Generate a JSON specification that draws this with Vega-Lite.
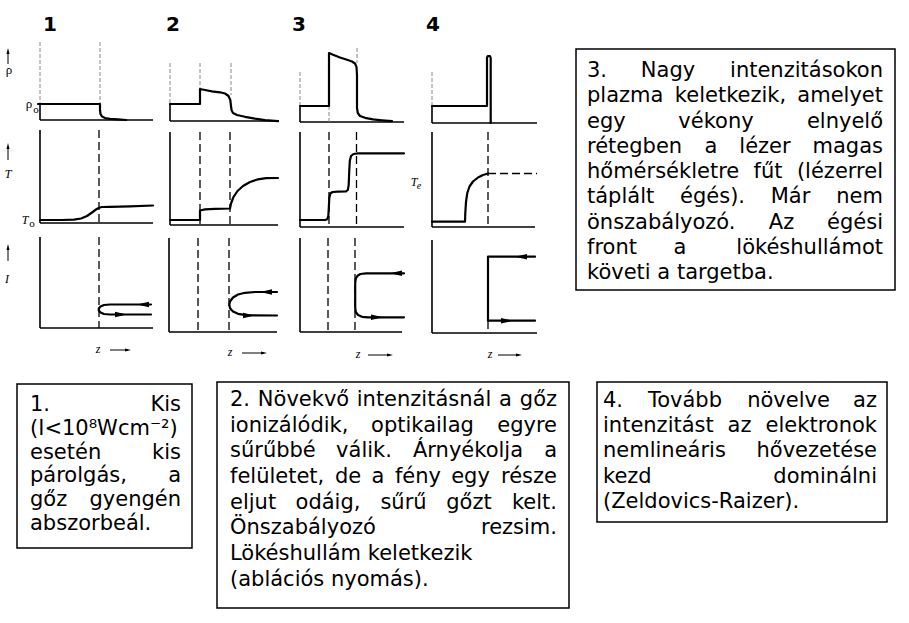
{
"$schema": "https://vega.github.io/schema/vega-lite/v6.json",
"width": 909, "height": 623,
"autosize": {"type": "fit", "contains": "padding"},
"padding": 0,
"background": "white",
"config": {"view": {"stroke": null}},
"datasets": {
"boxes": [
{"x":17,"y":384,"x2":192,"y2":548},
{"x":217,"y":382,"x2":569,"y2":608},
{"x":576,"y":49,"x2":895,"y2":290},
{"x":597,"y":382,"x2":887,"y2":522}
],
"rules": [
{"k":"faint","x":40,"y":42,"x2":40,"y2":104},{"k":"axis","x":40,"y":104,"x2":40,"y2":120},{"k":"axis","x":40,"y":120,"x2":153,"y2":120},
{"k":"axis","x":40,"y":130,"x2":40,"y2":223},{"k":"axis","x":40,"y":223,"x2":153,"y2":223},
{"k":"axis","x":40,"y":237,"x2":40,"y2":328},{"k":"axis","x":40,"y":328,"x2":153,"y2":328},
{"k":"faint","x":170,"y":63,"x2":170,"y2":104},{"k":"axis","x":170,"y":104,"x2":170,"y2":121},{"k":"axis","x":170,"y":121,"x2":279,"y2":121},
{"k":"axis","x":170,"y":132,"x2":170,"y2":225},{"k":"axis","x":170,"y":225,"x2":278,"y2":225},
{"k":"axis","x":169,"y":238,"x2":169,"y2":332},{"k":"axis","x":169,"y":332,"x2":277,"y2":332},
{"k":"faint","x":300,"y":72,"x2":300,"y2":106},{"k":"axis","x":300,"y":106,"x2":300,"y2":122},{"k":"axis","x":300,"y":122,"x2":404,"y2":122},
{"k":"axis","x":300,"y":132,"x2":300,"y2":227},{"k":"axis","x":300,"y":227,"x2":404,"y2":227},
{"k":"axis","x":300,"y":238,"x2":300,"y2":332},{"k":"axis","x":300,"y":332,"x2":402,"y2":332},
{"k":"faint","x":432,"y":72,"x2":432,"y2":106},{"k":"axis","x":432,"y":106,"x2":432,"y2":123},{"k":"axis","x":432,"y":123,"x2":537,"y2":123},
{"k":"axis","x":432,"y":132,"x2":432,"y2":227},{"k":"axis","x":432,"y":227,"x2":535,"y2":227},
{"k":"axis","x":432,"y":240,"x2":432,"y2":333},{"k":"axis","x":432,"y":333,"x2":537,"y2":333},
{"k":"dash","x":99,"y":130,"x2":99,"y2":223},{"k":"dash","x":99,"y":237,"x2":99,"y2":328},
{"k":"dash","x":200,"y":132,"x2":200,"y2":225},{"k":"dash","x":230,"y":132,"x2":230,"y2":225},
{"k":"dash","x":198,"y":238,"x2":198,"y2":332},{"k":"dash","x":229,"y":238,"x2":229,"y2":332},
{"k":"dash","x":329,"y":132,"x2":329,"y2":227},{"k":"dash","x":356.5,"y":132,"x2":356.5,"y2":227},
{"k":"dash","x":328,"y":238,"x2":328,"y2":332},{"k":"dash","x":355,"y":238,"x2":355,"y2":332},
{"k":"dash","x":488,"y":132,"x2":488,"y2":227},{"k":"dash","x":488,"y":321,"x2":488,"y2":333},
{"k":"dash","x":488,"y":173.5,"x2":537,"y2":173.5},
{"k":"faint","x":100,"y":42,"x2":100,"y2":104},
{"k":"faint","x":200,"y":63,"x2":200,"y2":89},{"k":"faint","x":231,"y":63,"x2":231,"y2":95},
{"k":"faint","x":329,"y":106,"x2":329,"y2":122},{"k":"faint","x":357,"y":48,"x2":357,"y2":63},
{"k":"thin","x":8,"y":52,"x2":8,"y2":64},{"k":"thin","x":8,"y":147,"x2":8,"y2":160},{"k":"thin","x":8,"y":248,"x2":8,"y2":261},
{"k":"thin","x":110,"y":350,"x2":128,"y2":350},{"k":"thin","x":242,"y":353,"x2":264,"y2":353},
{"k":"thin","x":368,"y":355,"x2":390,"y2":355},{"k":"thin","x":498,"y":355,"x2":519,"y2":355}
],
"curves": [
{"id":"a1","o":1,"x":38,"y":104},{"id":"a1","o":2,"x":100,"y":104},{"id":"a1","o":3,"x":100,"y":110},{"id":"a1","o":4,"x":100.5,"y":114},{"id":"a1","o":5,"x":102,"y":116.5},{"id":"a1","o":6,"x":105,"y":118},{"id":"a1","o":7,"x":110,"y":118.8},{"id":"a1","o":8,"x":118,"y":119.4},{"id":"a1","o":9,"x":126,"y":120},
{"id":"a2","o":1,"x":40,"y":220},{"id":"a2","o":2,"x":62,"y":220},{"id":"a2","o":3,"x":74,"y":219.6},{"id":"a2","o":4,"x":81,"y":218.5},{"id":"a2","o":5,"x":87,"y":216},{"id":"a2","o":6,"x":92,"y":212.5},{"id":"a2","o":7,"x":96,"y":209.5},{"id":"a2","o":8,"x":99,"y":207.8},{"id":"a2","o":9,"x":102,"y":207},{"id":"a2","o":10,"x":110,"y":206.8},{"id":"a2","o":11,"x":130,"y":206.3},{"id":"a2","o":12,"x":153,"y":205.5},
{"id":"a3","o":1,"x":151,"y":304.5},{"id":"a3","o":2,"x":110,"y":304.5},{"id":"a3","o":3,"x":104,"y":305},{"id":"a3","o":4,"x":100.5,"y":306.5},{"id":"a3","o":5,"x":98.8,"y":308.5},{"id":"a3","o":6,"x":98.8,"y":310.5},{"id":"a3","o":7,"x":100.5,"y":312.5},{"id":"a3","o":8,"x":104,"y":314},{"id":"a3","o":9,"x":110,"y":314.5},{"id":"a3","o":10,"x":151,"y":314.5},
{"id":"b1","o":1,"x":170,"y":104},{"id":"b1","o":2,"x":200,"y":104},{"id":"b1","o":3,"x":200,"y":89},{"id":"b1","o":4,"x":205,"y":90},{"id":"b1","o":5,"x":212,"y":91.3},{"id":"b1","o":6,"x":220,"y":92.3},{"id":"b1","o":7,"x":225,"y":93.5},{"id":"b1","o":8,"x":228.5,"y":96},{"id":"b1","o":9,"x":230.3,"y":100},{"id":"b1","o":10,"x":231,"y":106},{"id":"b1","o":11,"x":231.5,"y":110},{"id":"b1","o":12,"x":233,"y":113},{"id":"b1","o":13,"x":237,"y":115},{"id":"b1","o":14,"x":245,"y":116.8},{"id":"b1","o":15,"x":255,"y":118.6},{"id":"b1","o":16,"x":265,"y":120.1},{"id":"b1","o":17,"x":278,"y":121.2},
{"id":"b2","o":1,"x":170,"y":220},{"id":"b2","o":2,"x":200,"y":220},{"id":"b2","o":3,"x":200,"y":210.5},{"id":"b2","o":4,"x":205,"y":209.4},{"id":"b2","o":5,"x":215,"y":208.8},{"id":"b2","o":6,"x":230,"y":208.5},{"id":"b2","o":7,"x":231,"y":203.5},{"id":"b2","o":8,"x":233.5,"y":197},{"id":"b2","o":9,"x":237.5,"y":191},{"id":"b2","o":10,"x":243,"y":186},{"id":"b2","o":11,"x":250,"y":182},{"id":"b2","o":12,"x":258,"y":179.3},{"id":"b2","o":13,"x":266,"y":178.2},{"id":"b2","o":14,"x":278,"y":178},
{"id":"b3","o":1,"x":277,"y":292},{"id":"b3","o":2,"x":255,"y":292},{"id":"b3","o":3,"x":245,"y":292.8},{"id":"b3","o":4,"x":238,"y":294.5},{"id":"b3","o":5,"x":233,"y":297.5},{"id":"b3","o":6,"x":230,"y":301.5},{"id":"b3","o":7,"x":229.3,"y":305},{"id":"b3","o":8,"x":230.2,"y":308.5},{"id":"b3","o":9,"x":233,"y":311.5},{"id":"b3","o":10,"x":238,"y":313.8},{"id":"b3","o":11,"x":246,"y":315.2},{"id":"b3","o":12,"x":277,"y":315.5},
{"id":"c1","o":1,"x":300,"y":106},{"id":"c1","o":2,"x":329,"y":106},{"id":"c1","o":3,"x":329,"y":53},{"id":"c1","o":4,"x":333,"y":54.8},{"id":"c1","o":5,"x":340,"y":57.5},{"id":"c1","o":6,"x":347,"y":59.8},{"id":"c1","o":7,"x":352,"y":61.5},{"id":"c1","o":8,"x":355,"y":63.5},{"id":"c1","o":9,"x":356.5,"y":67},{"id":"c1","o":10,"x":357,"y":75},{"id":"c1","o":11,"x":357,"y":108},{"id":"c1","o":12,"x":357.8,"y":113},{"id":"c1","o":13,"x":360,"y":116},{"id":"c1","o":14,"x":365,"y":117.8},{"id":"c1","o":15,"x":373,"y":119.3},{"id":"c1","o":16,"x":382,"y":120.3},{"id":"c1","o":17,"x":392,"y":121.2},
{"id":"c2","o":1,"x":300,"y":220},{"id":"c2","o":2,"x":325,"y":220},{"id":"c2","o":3,"x":327.3,"y":219.2},{"id":"c2","o":4,"x":328.3,"y":216},{"id":"c2","o":5,"x":328.8,"y":208},{"id":"c2","o":6,"x":329.3,"y":198},{"id":"c2","o":7,"x":330.3,"y":193.5},{"id":"c2","o":8,"x":332.5,"y":192},{"id":"c2","o":9,"x":338,"y":191.6},{"id":"c2","o":10,"x":346,"y":191.4},{"id":"c2","o":11,"x":347.8,"y":190},{"id":"c2","o":12,"x":348.7,"y":185},{"id":"c2","o":13,"x":349.2,"y":172},{"id":"c2","o":14,"x":349.8,"y":161},{"id":"c2","o":15,"x":351,"y":156},{"id":"c2","o":16,"x":353.5,"y":154},{"id":"c2","o":17,"x":358,"y":153.3},{"id":"c2","o":18,"x":404,"y":153.3},
{"id":"c3","o":1,"x":404,"y":273.3},{"id":"c3","o":2,"x":366,"y":273.3},{"id":"c3","o":3,"x":360.5,"y":274},{"id":"c3","o":4,"x":357.5,"y":275.8},{"id":"c3","o":5,"x":355.8,"y":278.5},{"id":"c3","o":6,"x":355.2,"y":283},{"id":"c3","o":7,"x":355.2,"y":308},{"id":"c3","o":8,"x":355.8,"y":312},{"id":"c3","o":9,"x":358,"y":315},{"id":"c3","o":10,"x":362,"y":316.8},{"id":"c3","o":11,"x":368,"y":317.3},{"id":"c3","o":12,"x":404,"y":317.3},
{"id":"d1","o":1,"x":432,"y":106},{"id":"d1","o":2,"x":487,"y":106},{"id":"d1","o":3,"x":487,"y":58},{"id":"d1","o":4,"x":487.8,"y":56},{"id":"d1","o":5,"x":490,"y":56},{"id":"d1","o":6,"x":490.7,"y":58},{"id":"d1","o":7,"x":490.7,"y":123},
{"id":"d2","o":1,"x":432,"y":221.7},{"id":"d2","o":2,"x":465,"y":221.7},{"id":"d2","o":3,"x":465.3,"y":213},{"id":"d2","o":4,"x":466,"y":202},{"id":"d2","o":5,"x":467.3,"y":193},{"id":"d2","o":6,"x":469.5,"y":186.5},{"id":"d2","o":7,"x":473,"y":181.5},{"id":"d2","o":8,"x":478,"y":177.5},{"id":"d2","o":9,"x":483,"y":175},{"id":"d2","o":10,"x":488,"y":173.5},
{"id":"d3","o":1,"x":535,"y":256.7},{"id":"d3","o":2,"x":488,"y":256.7},{"id":"d3","o":3,"x":488,"y":320.7},{"id":"d3","o":4,"x":535,"y":320.7}
],
"heads": [
{"d":"l","x":143,"y":304.5},{"d":"r","x":121,"y":314.5},
{"d":"l","x":266,"y":292},{"d":"r","x":249,"y":315.5},
{"d":"l","x":396,"y":273.3},{"d":"r","x":377,"y":317.3},
{"d":"l","x":521,"y":256.7},{"d":"r","x":507,"y":320.7}
],
"small": [
{"d":"u","x":8,"y":51},{"d":"u","x":8,"y":146},{"d":"u","x":8,"y":247},
{"d":"r","x":128,"y":350},{"d":"r","x":264,"y":353},{"d":"r","x":390,"y":355},{"d":"r","x":519,"y":355}
],
"labels": [
{"s":"num","t":"1","x":50,"y":31},{"s":"num","t":"2","x":173,"y":31},{"s":"num","t":"3","x":299,"y":31},{"s":"num","t":"4","x":433,"y":31},
{"s":"up","t":"ρ","x":9,"y":74},{"s":"up","t":"ρ","x":29,"y":108},{"s":"sub","t":"o","x":36,"y":113},
{"s":"it","t":"T","x":8,"y":178},{"s":"it","t":"I","x":7,"y":283},
{"s":"it","t":"T","x":25,"y":224},{"s":"sub","t":"o","x":32,"y":227},
{"s":"it","t":"T","x":414,"y":186},{"s":"subi","t":"e","x":419,"y":189},
{"s":"it","t":"z","x":98,"y":353},{"s":"it","t":"z","x":230,"y":356},{"s":"it","t":"z","x":358,"y":358},{"s":"it","t":"z","x":490,"y":358}
],
"words": [
{"a":"l","t":"1.","x":30,"y":411},{"a":"r","t":"Kis","x":181,"y":411},
{"a":"l","t":"(I<10⁸Wcm⁻²)","x":30,"y":435},
{"a":"l","t":"esetén","x":30,"y":459},{"a":"r","t":"kis","x":181,"y":459},
{"a":"l","t":"párolgás,","x":30,"y":482},{"a":"r","t":"a","x":181,"y":482},
{"a":"l","t":"gőz","x":30,"y":506},{"a":"r","t":"gyengén","x":181,"y":506},
{"a":"l","t":"abszorbeál.","x":30,"y":530},
{"a":"l","t":"2.","x":230,"y":406},{"a":"c","t":"Növekvő","x":303.5,"y":406},{"a":"c","t":"intenzitásnál","x":424,"y":406},{"a":"c","t":"a","x":505.5,"y":406},{"a":"r","t":"gőz","x":557,"y":406},
{"a":"l","t":"ionizálódik,","x":230,"y":432},{"a":"c","t":"optikailag","x":422.5,"y":432},{"a":"r","t":"egyre","x":557,"y":432},
{"a":"l","t":"sűrűbbé","x":230,"y":457},{"a":"c","t":"válik.","x":364,"y":457},{"a":"c","t":"Árnyékolja","x":468,"y":457},{"a":"r","t":"a","x":557,"y":457},
{"a":"l","t":"felületet,","x":230,"y":483},{"a":"c","t":"de","x":348,"y":483},{"a":"c","t":"a","x":378,"y":483},{"a":"c","t":"fény","x":418,"y":483},{"a":"c","t":"egy","x":470.5,"y":483},{"a":"r","t":"része","x":557,"y":483},
{"a":"l","t":"eljut","x":230,"y":509},{"a":"c","t":"odáig,","x":328,"y":509},{"a":"c","t":"sűrű","x":403.5,"y":509},{"a":"c","t":"gőzt","x":469,"y":509},{"a":"r","t":"kelt.","x":557,"y":509},
{"a":"l","t":"Önszabályozó","x":230,"y":534},{"a":"r","t":"rezsim.","x":557,"y":534},
{"a":"l","t":"Lökéshullám keletkezik","x":230,"y":560},
{"a":"l","t":"(ablációs nyomás).","x":230,"y":586},
{"a":"l","t":"3.","x":587,"y":77},{"a":"c","t":"Nagy","x":668,"y":77},{"a":"r","t":"intenzitásokon","x":883,"y":77},
{"a":"l","t":"plazma","x":587,"y":102},{"a":"c","t":"keletkezik,","x":730.5,"y":102},{"a":"r","t":"amelyet","x":883,"y":102},
{"a":"l","t":"egy","x":587,"y":128},{"a":"c","t":"vékony","x":716,"y":128},{"a":"r","t":"elnyelő","x":883,"y":128},
{"a":"l","t":"rétegben","x":587,"y":153},{"a":"c","t":"a","x":711,"y":153},{"a":"c","t":"lézer","x":765,"y":153},{"a":"r","t":"magas","x":883,"y":153},
{"a":"l","t":"hőmérsékletre","x":587,"y":178},{"a":"c","t":"fűt","x":768,"y":178},{"a":"r","t":"(lézerrel","x":883,"y":178},
{"a":"l","t":"táplált","x":587,"y":203},{"a":"c","t":"égés).","x":712.5,"y":203},{"a":"c","t":"Már","x":790.5,"y":203},{"a":"r","t":"nem","x":883,"y":203},
{"a":"l","t":"önszabályozó.","x":587,"y":229},{"a":"c","t":"Az","x":781.5,"y":229},{"a":"r","t":"égési","x":883,"y":229},
{"a":"l","t":"front","x":587,"y":254},{"a":"c","t":"a","x":680,"y":254},{"a":"r","t":"lökéshullámot","x":883,"y":254},
{"a":"l","t":"követi a targetba.","x":587,"y":279},
{"a":"l","t":"4.","x":603,"y":407},{"a":"c","t":"Tovább","x":685,"y":407},{"a":"c","t":"növelve","x":788.5,"y":407},{"a":"r","t":"az","x":877,"y":407},
{"a":"l","t":"intenzitást","x":603,"y":432},{"a":"c","t":"az","x":739.5,"y":432},{"a":"r","t":"elektronok","x":877,"y":432},
{"a":"l","t":"nemlineáris","x":603,"y":457},{"a":"r","t":"hővezetése","x":877,"y":457},
{"a":"l","t":"kezd","x":603,"y":483},{"a":"r","t":"dominálni","x":877,"y":483},
{"a":"l","t":"(Zeldovics-Raizer).","x":603,"y":508}
]
},
"encoding": {
"x": {"field": "x", "type": "quantitative", "scale": {"domain": [0, 909], "nice": false, "zero": false}, "axis": null},
"y": {"field": "y", "type": "quantitative", "scale": {"domain": [0, 623], "reverse": true, "nice": false, "zero": false}, "axis": null}
},
"layer": [
{"data": {"name": "boxes"}, "mark": {"type": "rect", "fill": "white", "stroke": "black", "strokeWidth": 1.5},
 "encoding": {"x2": {"field": "x2"}, "y2": {"field": "y2"}}},
{"data": {"name": "rules"}, "transform": [{"filter": "datum.k == 'axis'"}], "mark": {"type": "rule", "color": "black", "strokeWidth": 1.6},
 "encoding": {"x2": {"field": "x2"}, "y2": {"field": "y2"}}},
{"data": {"name": "rules"}, "transform": [{"filter": "datum.k == 'faint'"}], "mark": {"type": "rule", "color": "#888888", "strokeWidth": 1, "strokeDash": [4, 2]},
 "encoding": {"x2": {"field": "x2"}, "y2": {"field": "y2"}}},
{"data": {"name": "rules"}, "transform": [{"filter": "datum.k == 'dash'"}], "mark": {"type": "rule", "color": "black", "strokeWidth": 1.3, "strokeDash": [8, 4]},
 "encoding": {"x2": {"field": "x2"}, "y2": {"field": "y2"}}},
{"data": {"name": "rules"}, "transform": [{"filter": "datum.k == 'thin'"}], "mark": {"type": "rule", "color": "black", "strokeWidth": 1},
 "encoding": {"x2": {"field": "x2"}, "y2": {"field": "y2"}}},
{"data": {"name": "curves"}, "mark": {"type": "line", "color": "black", "strokeWidth": 2.2, "strokeJoin": "round", "strokeCap": "round"},
 "encoding": {"detail": {"field": "id"}, "order": {"field": "o", "type": "quantitative"}}},
{"data": {"name": "heads"}, "transform": [{"filter": "datum.d == 'l'"}], "mark": {"type": "point", "shape": "M -1 0 L 1 -0.45 L 1 0.45 Z", "filled": true, "color": "black", "opacity": 1, "size": 144}, "encoding": {}},
{"data": {"name": "heads"}, "transform": [{"filter": "datum.d == 'r'"}], "mark": {"type": "point", "shape": "M 1 0 L -1 -0.45 L -1 0.45 Z", "filled": true, "color": "black", "opacity": 1, "size": 144}, "encoding": {}},
{"data": {"name": "small"}, "transform": [{"filter": "datum.d == 'u'"}], "mark": {"type": "point", "shape": "M 0 -1 L -0.5 1 L 0.5 1 Z", "filled": true, "color": "black", "opacity": 1, "size": 36}, "encoding": {}},
{"data": {"name": "small"}, "transform": [{"filter": "datum.d == 'r'"}], "mark": {"type": "point", "shape": "M 1 0 L -1 -0.5 L -1 0.5 Z", "filled": true, "color": "black", "opacity": 1, "size": 36}, "encoding": {}},
{"data": {"name": "labels"}, "transform": [{"filter": "datum.s == 'num'"}], "mark": {"type": "text", "font": "DejaVu Sans", "fontSize": 20, "fontWeight": "bold", "align": "center", "baseline": "alphabetic", "color": "black"},
 "encoding": {"text": {"field": "t"}}},
{"data": {"name": "labels"}, "transform": [{"filter": "datum.s == 'up'"}], "mark": {"type": "text", "font": "Liberation Serif", "fontSize": 13, "align": "center", "baseline": "alphabetic", "color": "black"},
 "encoding": {"text": {"field": "t"}}},
{"data": {"name": "labels"}, "transform": [{"filter": "datum.s == 'it'"}], "mark": {"type": "text", "font": "Liberation Serif", "fontSize": 12, "fontStyle": "italic", "align": "center", "baseline": "alphabetic", "color": "black"},
 "encoding": {"text": {"field": "t"}}},
{"data": {"name": "labels"}, "transform": [{"filter": "datum.s == 'sub'"}], "mark": {"type": "text", "font": "Liberation Serif", "fontSize": 11, "align": "center", "baseline": "alphabetic", "color": "black"},
 "encoding": {"text": {"field": "t"}}},
{"data": {"name": "labels"}, "transform": [{"filter": "datum.s == 'subi'"}], "mark": {"type": "text", "font": "Liberation Serif", "fontSize": 10, "fontStyle": "italic", "align": "center", "baseline": "alphabetic", "color": "black"},
 "encoding": {"text": {"field": "t"}}},
{"data": {"name": "words"}, "transform": [{"filter": "datum.a == 'l'"}], "mark": {"type": "text", "font": "DejaVu Sans", "fontSize": 21, "align": "left", "baseline": "alphabetic", "color": "black"},
 "encoding": {"text": {"field": "t"}}},
{"data": {"name": "words"}, "transform": [{"filter": "datum.a == 'c'"}], "mark": {"type": "text", "font": "DejaVu Sans", "fontSize": 21, "align": "center", "baseline": "alphabetic", "color": "black"},
 "encoding": {"text": {"field": "t"}}},
{"data": {"name": "words"}, "transform": [{"filter": "datum.a == 'r'"}], "mark": {"type": "text", "font": "DejaVu Sans", "fontSize": 21, "align": "right", "baseline": "alphabetic", "color": "black"},
 "encoding": {"text": {"field": "t"}}}
]
}
